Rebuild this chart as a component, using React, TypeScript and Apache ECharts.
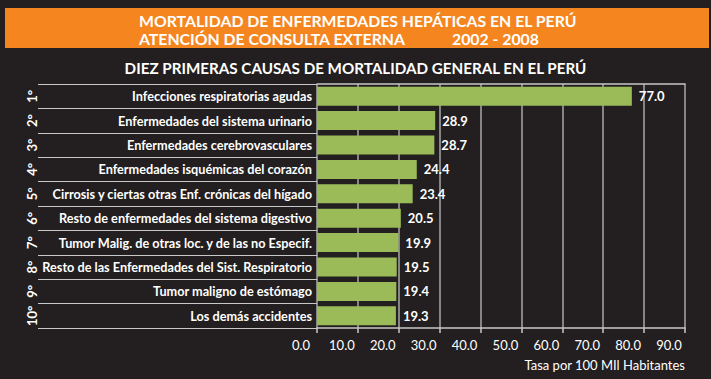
import React, { useEffect, useRef } from "react";
import * as echarts from "echarts";

const causes = [
  "Infecciones respiratorias agudas",
  "Enfermedades del sistema urinario",
  "Enfermedades cerebrovasculares",
  "Enfermedades isquémicas del corazón",
  "Cirrosis y ciertas otras Enf. crónicas del hígado",
  "Resto de enfermedades del sistema digestivo",
  "Tumor Malig. de otras loc. y de las no Especif.",
  "Resto de las Enfermedades del Sist. Respiratorio",
  "Tumor maligno de estómago",
  "Los demás accidentes",
];
const ranks = ["1°", "2°", "3°", "4°", "5°", "6°", "7°", "8°", "9°", "10°"];
const rates = [77.0, 28.9, 28.7, 24.4, 23.4, 20.5, 19.9, 19.5, 19.4, 19.3];

const titleLine1 = "MORTALIDAD DE ENFERMEDADES HEPÁTICAS EN EL PERÚ";
const titleLine2 = "ATENCIÓN DE CONSULTA EXTERNA";
const titleYears = "2002 - 2008";
const subtitle = "DIEZ PRIMERAS CAUSAS DE MORTALIDAD GENERAL EN EL PERÚ";
const axisName = "Tasa por 100 MIl Habitantes";

const FONT = "Lato";

export default function App() {
  const ref = useRef<HTMLDivElement>(null);
  useEffect(() => {
    if (!ref.current) return;
    const chart = echarts.init(ref.current, undefined, { renderer: "svg" });
    chart.setOption({
      animation: false,
      backgroundColor: "#231f20",
      textStyle: { fontFamily: FONT },
      title: {
        text: subtitle,
        left: "center",
        top: 55,
        textStyle: { color: "#ffffff", fontWeight: "bold", fontSize: 15.2, fontFamily: FONT },
      },
      graphic: [
        { type: "rect", shape: { x: 5, y: 8, width: 704, height: 40 }, style: { fill: "#f5851f" }, silent: true },
        {
          type: "text",
          x: 139,
          y: 20,
          style: { text: titleLine1, fill: "#ffffff", font: `bold 15.8px ${FONT}`, textVerticalAlign: "middle" },
        },
        {
          type: "text",
          x: 139,
          y: 38,
          style: { text: titleLine2, fill: "#ffffff", font: `bold 15.8px ${FONT}`, textVerticalAlign: "middle" },
        },
        {
          type: "text",
          x: 452,
          y: 38,
          style: { text: titleYears, fill: "#ffffff", font: `bold 15.8px ${FONT}`, textVerticalAlign: "middle" },
        },
      ],
      grid: { left: 317, right: 26, top: 84, bottom: 51, containLabel: false },
      xAxis: [
        {
          type: "value",
          min: 0,
          max: 90,
          interval: 10,
          position: "bottom",
          axisLine: { show: true, lineStyle: { color: "#c8c8c8", width: 1.5 } },
          axisTick: { show: true, length: 5, lineStyle: { color: "#c8c8c8", width: 1.5 } },
          splitLine: { show: true, lineStyle: { color: "#a8a8a8", width: 1.5 } },
          axisLabel: {
            color: "#ffffff",
            fontSize: 13,
            fontFamily: FONT,
            margin: 10,
            padding: [0, 32, 0, 0],
            formatter: (v: number) => v.toFixed(1),
          },
          name: axisName,
          nameLocation: "end",
          nameGap: 0,
          nameTextStyle: {
            color: "#ffffff",
            fontSize: 13,
            fontFamily: FONT,
            align: "right",
            verticalAlign: "top",
            padding: [30, 0, 0, 0],
          },
        },
        {
          type: "value",
          min: 0,
          max: 90,
          position: "top",
          axisLine: { show: true, lineStyle: { color: "#c8c8c8", width: 1.5 } },
          axisTick: { show: false },
          axisLabel: { show: false },
          splitLine: { show: false },
        },
      ],
      yAxis: [
        {
          type: "category",
          data: causes,
          inverse: true,
          axisLine: { show: false },
          axisTick: { show: true, length: 279, lineStyle: { color: "#c8c8c8", width: 1.2 } },
          axisLabel: {
            color: "#ffffff",
            fontWeight: "bold",
            fontSize: 12.7,
            fontFamily: FONT,
            margin: 5,
            interval: 0,
          },
        },
        {
          type: "category",
          data: ranks,
          inverse: true,
          position: "left",
          offset: 279,
          axisLine: { show: false },
          axisTick: { show: false },
          axisLabel: {
            color: "#ffffff",
            fontWeight: "bold",
            fontSize: 13,
            fontFamily: FONT,
            rotate: 90,
            margin: 0,
            interval: 0,
          },
        },
      ],
      series: [
        {
          type: "bar",
          data: rates,
          xAxisIndex: 0,
          yAxisIndex: 0,
          barWidth: 19,
          itemStyle: { color: "#9bbb59" },
          label: {
            show: true,
            position: "right",
            distance: 7,
            color: "#ffffff",
            fontWeight: "bold",
            fontSize: 13,
            fontFamily: FONT,
            formatter: (p: any) => Number(p.value).toFixed(1),
          },
        },
      ],
    });
    return () => chart.dispose();
  }, []);
  return (
    <div
      ref={ref}
      style={{ position: "absolute", left: 0, top: 0, width: 711, height: 379 }}
    />
  );
}
